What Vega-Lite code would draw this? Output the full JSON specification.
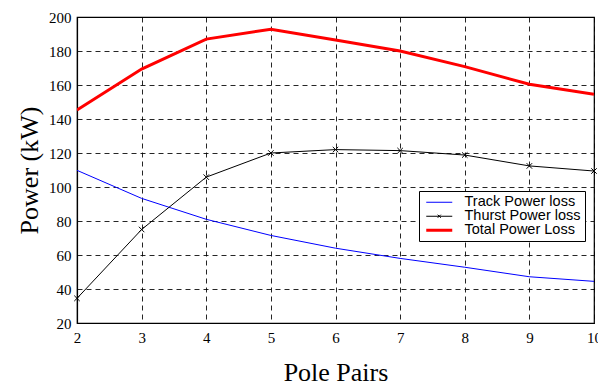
{
  "$schema": "https://vega.github.io/schema/vega-lite/v6.json",
  "width": 517,
  "height": 306,
  "autosize": "none",
  "padding": {"left": 77, "top": 17, "right": 4, "bottom": 64},
  "background": "white",
  "config": {
    "view": {"stroke": "black", "strokeWidth": 1.2},
    "axis": {
      "domainColor": "black",
      "domainWidth": 1.2,
      "grid": true,
      "gridColor": "black",
      "gridDash": [5, 4],
      "gridWidth": 1,
      "gridOpacity": 0.85,
      "ticks": false,
      "labelFont": "Liberation Serif",
      "labelFontSize": 15,
      "labelColor": "black",
      "titleFont": "Liberation Serif",
      "titleFontSize": 26,
      "titleFontWeight": "normal",
      "titleColor": "black"
    }
  },
  "data": {
    "values": [
      {"pole": 2, "series": "Track Power loss", "power": 109.8},
      {"pole": 3, "series": "Track Power loss", "power": 93.3},
      {"pole": 4, "series": "Track Power loss", "power": 81},
      {"pole": 5, "series": "Track Power loss", "power": 71.5},
      {"pole": 6, "series": "Track Power loss", "power": 64},
      {"pole": 7, "series": "Track Power loss", "power": 58},
      {"pole": 8, "series": "Track Power loss", "power": 52.8},
      {"pole": 9, "series": "Track Power loss", "power": 47.2},
      {"pole": 10, "series": "Track Power loss", "power": 44.5},
      {"pole": 2, "series": "Thurst Power loss", "power": 34.5},
      {"pole": 3, "series": "Thurst Power loss", "power": 75},
      {"pole": 4, "series": "Thurst Power loss", "power": 105.8},
      {"pole": 5, "series": "Thurst Power loss", "power": 120},
      {"pole": 6, "series": "Thurst Power loss", "power": 122},
      {"pole": 7, "series": "Thurst Power loss", "power": 121.4},
      {"pole": 8, "series": "Thurst Power loss", "power": 118.8},
      {"pole": 9, "series": "Thurst Power loss", "power": 112.4},
      {"pole": 10, "series": "Thurst Power loss", "power": 109.4},
      {"pole": 2, "series": "Total Power Loss", "power": 145.3},
      {"pole": 3, "series": "Total Power Loss", "power": 169.4},
      {"pole": 4, "series": "Total Power Loss", "power": 187},
      {"pole": 5, "series": "Total Power Loss", "power": 192.8},
      {"pole": 6, "series": "Total Power Loss", "power": 186.5},
      {"pole": 7, "series": "Total Power Loss", "power": 180},
      {"pole": 8, "series": "Total Power Loss", "power": 170.8},
      {"pole": 9, "series": "Total Power Loss", "power": 160.4},
      {"pole": 10, "series": "Total Power Loss", "power": 154.5}
    ]
  },
  "encoding": {
    "x": {
      "field": "pole",
      "type": "quantitative",
      "scale": {"domain": [2, 10], "nice": false},
      "axis": {
        "values": [2, 3, 4, 5, 6, 7, 8, 9, 10],
        "title": "Pole Pairs",
        "labelFont": "Liberation Serif",
        "labelFontSize": 15,
        "labelFlush": false,
        "labelOverlap": false,
        "labelPadding": 7,
        "titlePadding": 14
      }
    },
    "y": {
      "field": "power",
      "type": "quantitative",
      "scale": {"domain": [20, 200], "nice": false},
      "axis": {
        "values": [20, 40, 60, 80, 100, 120, 140, 160, 180, 200],
        "title": "Power (kW)",
        "labelFont": "Liberation Serif",
        "labelFontSize": 15,
        "labelFlush": false,
        "labelOverlap": false,
        "labelPadding": 6,
        "titlePadding": 6
      }
    }
  },
  "layer": [
    {
      "mark": {"type": "line", "clip": true},
      "encoding": {
        "color": {
          "field": "series",
          "type": "nominal",
          "scale": {
            "domain": ["Track Power loss", "Thurst Power loss", "Total Power Loss"],
            "range": ["#0000ff", "#000000", "#ff0000"]
          },
          "legend": {
            "title": null,
            "orient": "none",
            "legendX": 342,
            "legendY": 174,
            "direction": "vertical",
            "strokeColor": "black",
            "fillColor": "white",
            "padding": 4,
            "rowPadding": -2,
            "symbolOffset": 9,
            "symbolSize": 676,
            "symbolType": "stroke",
            "labelFont": "Liberation Sans",
            "labelFontSize": 14.5,
            "labelColor": "black",
            "labelOffset": 18,
            "encode": {
              "symbols": {
                "update": {
                  "strokeWidth": {"signal": "datum.value === 'Total Power Loss' ? 3 : 1"},
                  "shape": {"signal": "datum.value === 'Thurst Power loss' ? 'M-1,0H1M-0.12,-0.12L0.12,0.12M-0.12,0.12L0.12,-0.12' : 'stroke'"}
                }
              }
            }
          }
        },
        "strokeWidth": {
          "condition": {"test": "datum.series === 'Total Power Loss'", "value": 3},
          "value": 1
        }
      }
    },
    {
      "transform": [{"filter": "datum.series === 'Thurst Power loss'"}],
      "mark": {
        "type": "point",
        "shape": "M-1,-1L1,1M-1,1L1,-1",
        "filled": false,
        "color": "black",
        "strokeWidth": 1,
        "size": 30,
        "opacity": 1,
        "clip": false
      }
    }
  ]
}
